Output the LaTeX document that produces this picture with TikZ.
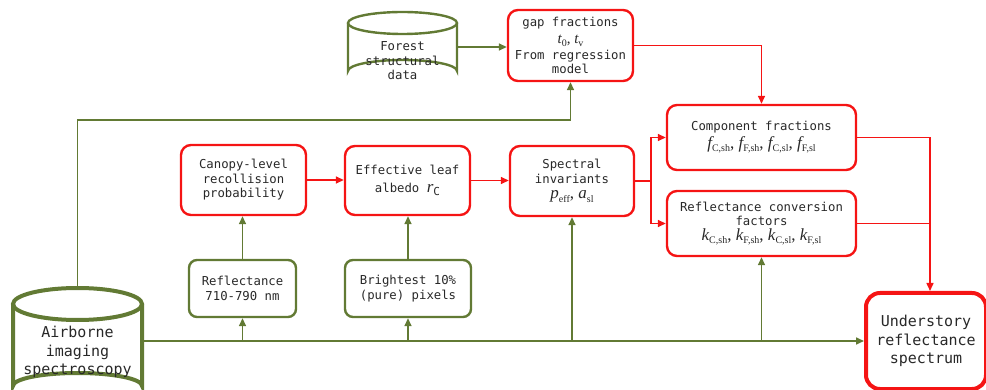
\documentclass[tikz,border=0pt]{standalone}
\usepackage{fontspec}
\setmainfont{DejaVu Sans Mono}
\newfontfamily\tnr{Liberation Serif}
\usetikzlibrary{arrows.meta,calc}
\definecolor{gcol}{RGB}{98,122,52}
\definecolor{rcol}{RGB}{245,20,20}
\definecolor{tcol}{RGB}{40,40,40}
\newcommand{\mfs}{\fontsize{12.3}{14.5}\selectfont}
\newcommand{\bfs}{\fontsize{15}{18.5}\selectfont}
\newcommand{\sbx}[1]{\raisebox{-0.45ex}{\upshape\fontsize{10}{10}\selectfont #1}}
\newcommand{\vv}[2]{{\itshape #1}\sbx{#2}}
\newcommand{\mth}[1]{{\tnr\fontsize{17}{17}\selectfont #1}}
\newcommand{\mths}[1]{{\tnr\fontsize{15}{14.5}\selectfont #1}}
\begin{document}
\begin{tikzpicture}[x=1pt,y=-1pt,
  rbox/.style={draw=rcol,line width=2.4pt,rounded corners=10pt,align=center,inner sep=0pt,font=\mfs,text=tcol},
  gbox/.style={draw=gcol,line width=2.4pt,rounded corners=8pt,align=center,inner sep=0pt,font=\mfs,text=tcol},
  rline/.style={draw=rcol,line width=1.5pt},
  gline/.style={draw=gcol,line width=1.6pt},
  rarr/.style={rline,-{Triangle[length=8pt,width=7pt]}},
  garr/.style={gline,-{Triangle[length=8pt,width=7pt]}},
  cyl/.style={draw=gcol,line width=2.4pt}]
\useasboundingbox (0,0) rectangle (986,390);
\clip (0,0) rectangle (986,390);
% Forest structural data cylinder
\node[minimum width=109pt,minimum height=70pt,inner sep=0pt] (forest) at (402.5,47) {};
\draw[cyl,fill=white] (348,23) -- (348,71) arc[start angle=180,end angle=360,x radius=54.5,y radius=11] -- (457,23);
\draw[cyl] (402.5,23) ellipse[x radius=54.5,y radius=11];
\node[font=\mfs,text=tcol,align=center] (forestt) at (402.5,61) {Forest\\structural\\data};
% Airborne imaging spectroscopy cylinder
\node[minimum width=129pt,minimum height=102pt,inner sep=0pt] (air) at (77.5,341) {};
\draw[cyl,line width=4pt] (13,304) -- (13,386) arc[start angle=180,end angle=360,x radius=64.5,y radius=13] -- (142,304);
\draw[cyl,line width=4pt] (77.5,304) ellipse[x radius=64.5,y radius=16];
\node[font=\bfs,text=tcol,align=center] (airt) at (77.5,352) {Airborne\\imaging\\spectroscopy};
% boxes
\node[rbox,minimum width=125pt,minimum height=71pt] (gap) at (570.5,45.5)
  {gap fractions\\[3pt]\mths{\vv{t}{0}, \vv{t}{v}}\\[1pt]From regression\\model};
\node[rbox,minimum width=189pt,minimum height=65pt] (comp) at (761.5,137.5)
  {Component fractions\\[2pt]\mth{\vv{f}{C,sh}, \vv{f}{F,sh}, \vv{f}{C,sl}, \vv{f}{F,sl}}};
\node[rbox,minimum width=189pt,minimum height=65pt] (conv) at (761.5,223.5)
  {Reflectance conversion\\factors\\[0pt]\mth{\vv{k}{C,sh}, \vv{k}{F,sh}, \vv{k}{C,sl}, \vv{k}{F,sl}}};
\node[rbox,minimum width=124pt,minimum height=70pt] (spec) at (572,181)
  {Spectral\\invariants\\[1pt]\mth{\vv{p}{eff}, \vv{a}{sl}}};
\node[rbox,minimum width=125pt,minimum height=70pt] (canopy) at (243.5,180)
  {Canopy-level\\recollision\\probability};
\node[rbox,minimum width=125pt,minimum height=69pt] (eff) at (407.5,180.5)
  {Effective leaf\\[3pt]albedo {\tnr\itshape\fontsize{17}{17}\selectfont r}\raisebox{-0.5ex}{\fontsize{11}{11}\selectfont C}};
\node[gbox,minimum width=107pt,minimum height=57pt] (refl) at (242.5,288.5)
  {Reflectance\\710-790 nm};
\node[gbox,minimum width=126pt,minimum height=57pt] (bright) at (408,288.5)
  {Brightest 10\%\\(pure) pixels};
\node[rbox,line width=4pt,rounded corners=14pt,minimum width=120pt,minimum height=96pt,font=\bfs] (under) at (926,341)
  {Understory\\reflectance\\spectrum};
% coordinates
\coordinate (ml) at (0,341);
\coordinate (topl) at (0,120);
\coordinate (sb) at ([xshift=16pt]spec.east);
\coordinate (uj) at ([xshift=4pt]under.north);
% green connectors
\draw[garr] (forest.east) -- (gap.west |- forest.east);
\draw[garr] (air.north) -- (air.north |- topl) -| (gap.south);
\draw[garr] (air.east |- ml) -- (under.west);
\draw[garr] (refl.south |- ml) -- (refl.south);
\draw[garr] (bright.south |- ml) -- (bright.south);
\draw[garr] (spec.south |- ml) -- (spec.south);
\draw[garr] (conv.south |- ml) -- (conv.south);
\draw[garr] (refl.north) -- (canopy.south -| refl.north);
\draw[garr] (bright.north) -- (eff.south -| bright.north);
% red connectors
\draw[rarr] (canopy.east) -- (eff.west |- canopy.east);
\draw[rarr] (eff.east) -- (spec.west |- eff.east);
\draw[rarr] (spec.east) -- (sb) |- (comp.west);
\draw[rarr] (sb) |- (conv.west);
\draw[rarr] (gap.east) -| (comp.north);
\draw[rline] (conv.east) -- (conv.east -| uj);
\draw[rarr] (comp.east) -| (uj);
\end{tikzpicture}
\end{document}
